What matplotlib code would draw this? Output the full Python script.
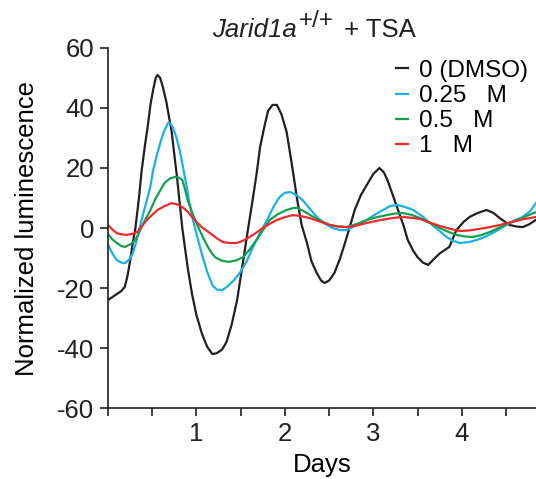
import matplotlib
matplotlib.use("Agg")
import matplotlib.pyplot as plt
import numpy as np

plt.rcParams['font.family'] = ['Liberation Sans', 'DejaVu Sans']
plt.rcParams['axes.unicode_minus'] = False

# Data (days, normalized luminescence)
dmso_x = [0.00, 0.05, 0.10, 0.15, 0.19, 0.22, 0.25, 0.28, 0.31, 0.35, 0.38, 0.42, 0.45, 0.48,
          0.51, 0.54, 0.56, 0.59, 0.62, 0.66, 0.72, 0.78, 0.84, 0.90, 0.95, 1.00, 1.06, 1.12,
          1.18, 1.23, 1.29, 1.34, 1.40, 1.46, 1.53, 1.58, 1.63, 1.68, 1.72, 1.77, 1.81, 1.86,
          1.91, 1.96, 2.02, 2.08, 2.14, 2.19, 2.25, 2.30, 2.36, 2.41, 2.45, 2.50, 2.56, 2.62,
          2.68, 2.74, 2.79, 2.86, 2.94, 3.00, 3.07, 3.12, 3.16, 3.22, 3.28, 3.34, 3.39, 3.45,
          3.50, 3.56, 3.62, 3.68, 3.75, 3.80, 3.86, 3.90, 3.94, 4.02, 4.09, 4.18, 4.28, 4.36,
          4.43, 4.54, 4.62, 4.69, 4.76, 4.84]
dmso_y = [-24, -23, -22, -21, -19.6, -16, -11, -5, 0, 10, 19, 28, 34, 41,
          46, 50, 51, 50, 47, 42, 32, 17, 0, -13, -22, -29, -35, -39.5,
          -42, -41.7, -40.5, -38, -32, -24, -10.7, -1, 8.3, 18, 27, 34, 39, 41,
          41, 38, 32, 21, 9.3, 1, -5, -11, -15, -17.5, -18.3, -17.5, -15, -10.5,
          -5, 1, 6, 11, 15, 18, 20, 18.5, 16, 11, 6, 1, -4, -7.5,
          -9.7, -11.5, -12.3, -10.5, -8.5, -7.5, -6.3, -3.5, -0.7, 2, 3.7, 5, 6, 5,
          3.3, 1, 0.5, 0.3, 1.2, 2.7]

c025_x = [0.00, 0.05, 0.10, 0.15, 0.19, 0.24, 0.28, 0.32, 0.36, 0.40, 0.44, 0.48, 0.51, 0.55,
          0.59, 0.63, 0.68, 0.70, 0.73, 0.77, 0.81, 0.85, 0.89, 0.92, 0.96, 1.01, 1.06, 1.12,
          1.18, 1.23, 1.29, 1.35, 1.42, 1.49, 1.57, 1.64, 1.72, 1.80, 1.87, 1.94, 2.00, 2.06,
          2.13, 2.20, 2.28, 2.36, 2.45, 2.54, 2.62, 2.70, 2.80, 2.93, 3.02, 3.11, 3.19, 3.27,
          3.36, 3.45, 3.55, 3.64, 3.74, 3.83, 3.90, 3.98, 4.08, 4.17, 4.26, 4.35, 4.45, 4.54,
          4.62, 4.69, 4.77, 4.84]
c025_y = [-5.5, -8.5, -10.7, -11.5, -11.7, -10.5, -8.5, -4.5, 0.3, 5, 9.3, 14, 19.3, 24,
          28.3, 32, 35, 35, 33.7, 30.5, 26, 20, 13.7, 8.5, 2.7, -3, -8.5, -14.5,
          -19, -20.5, -20.7, -19.5, -17.5, -15, -11, -6.3, -1.5, 2.7, 7, 10.3, 11.7, 12,
          11, 9.3, 6.5, 3.7, 1.5, 0, -0.7, -0.7, 0.8, 2.7, 4.5, 6, 7.3, 7.7,
          7, 6, 4, 1.7, -0.8, -3, -4.3, -5, -4.7, -4, -3, -1.7, 0, 1.7,
          2.8, 3.7, 5.5, 8.3]

c05_x = [0.00, 0.05, 0.10, 0.15, 0.19, 0.25, 0.31, 0.36, 0.42, 0.48, 0.53, 0.59, 0.64, 0.70,
         0.76, 0.80, 0.84, 0.87, 0.90, 0.96, 1.02, 1.08, 1.13, 1.17, 1.21, 1.28, 1.36, 1.45,
         1.53, 1.60, 1.68, 1.75, 1.83, 1.92, 2.02, 2.10, 2.14, 2.22, 2.32, 2.42, 2.51, 2.60,
         2.70, 2.82, 2.93, 3.04, 3.15, 3.24, 3.33, 3.43, 3.53, 3.64, 3.75, 3.85, 3.94, 4.03,
         4.12, 4.22, 4.32, 4.43, 4.54, 4.65, 4.75, 4.84]
c05_y = [-2, -3.8, -5, -6, -6.3, -5.5, -4, -1, 2.7, 6, 9.3, 12.5, 15, 16.5,
         17, 16.8, 16, 13, 9.3, 4.5, 0.3, -3.5, -6.3, -8.2, -9.7, -10.8, -11.3, -10.8,
         -9.7, -7.2, -4, -0.8, 2.7, 4.6, 6, 6.7, 6.7, 5.5, 3.7, 2.2, 1, 0.5,
         0.3, 1.4, 2.7, 3.6, 4.3, 4.8, 5, 4.4, 3.3, 1.7, 0, -1.3, -2.3, -2.8,
         -3, -2.4, -1.3, 0.2, 1.7, 2.9, 4.2, 5.3]

c1_x = [0.00, 0.05, 0.10, 0.15, 0.21, 0.27, 0.33, 0.38, 0.44, 0.50, 0.56, 0.64, 0.72, 0.78,
        0.84, 0.90, 0.95, 1.00, 1.06, 1.12, 1.18, 1.24, 1.30, 1.38, 1.46, 1.53, 1.60, 1.68,
        1.75, 1.83, 1.91, 2.00, 2.09, 2.18, 2.28, 2.40, 2.51, 2.60, 2.70, 2.82, 2.93, 3.04,
        3.15, 3.24, 3.33, 3.43, 3.53, 3.64, 3.75, 3.86, 3.98, 4.09, 4.20, 4.32, 4.43, 4.54,
        4.66, 4.75, 4.84]
c1_y = [1, -0.5, -1.7, -2.1, -2.3, -2, -1.3, 0.5, 2.7, 4.4, 6, 7.3, 8.3, 7.9,
        7, 5.5, 3.7, 2, 0.3, -1, -2.3, -3.6, -4.7, -5, -5, -4.2, -3, -1.5,
        0, 1.4, 2.7, 3.6, 4.3, 4, 3.3, 2.1, 1, 0.5, 0.3, 0.9, 1.7, 2.4,
        3, 3.4, 3.7, 3.4, 3, 1.8, 0.7, -0.2, -1, -0.8, -0.3, 0.3, 1, 1.8,
        2.7, 3.2, 3.7]

labels = ['0 (DMSO)', '0.25   M', '0.5   M', '1   M']
colors = ['#231f20', '#1ab0e8', '#14a050', '#ee2a2a']
title_parts = ['Jarid1a', '+/+', ' + TSA']

W, H = 536, 479
fig = plt.figure(figsize=(W / 100, H / 100), dpi=100)
ax = fig.add_axes([0.2015, 0.148, 0.7985, 0.752])

series = [(dmso_x, dmso_y), (c025_x, c025_y), (c05_x, c05_y), (c1_x, c1_y)]
for (xs, ys), lab, col in zip(series, labels, colors):
    ax.plot(xs, ys, color=col, lw=1.6, label=lab)

ax.set_xlim(0, 4.84)
ax.set_ylim(-60, 60)
ax.set_yticks(np.arange(-60, 61, 20))
ax.set_yticklabels([str(v) for v in range(-60, 61, 20)])
xt = np.arange(0, 4.84, 0.5)
ax.set_xticks(xt)
ax.set_xticklabels(['' if (v % 1 or v == 0) else str(int(v)) for v in xt])

for s in ['top', 'right']:
    ax.spines[s].set_visible(False)
for s in ['left', 'bottom']:
    ax.spines[s].set_linewidth(1.2)
    ax.spines[s].set_color('#231f20')
ax.tick_params(direction='out', length=6, width=1.2, labelsize=18.5, colors='#231f20', pad=4)

ax.set_xlabel('Days', fontsize=18.5, labelpad=5)
ax.set_ylabel('Normalized luminescence', fontsize=18.5, labelpad=13)

# Title built from pieces (italic gene name, large raised superscript)
renderer = fig.canvas.get_renderer()
x0 = 212 / W
yb = 1 - 37 / H
t1 = fig.text(x0, yb, title_parts[0], fontsize=18.5, style='italic', va='baseline', color='#231f20')
w1 = t1.get_window_extent(renderer).width / W
t2 = fig.text(x0 + w1 + 2 / W, yb + 10 / H, title_parts[1], fontsize=17.5, va='baseline', color='#231f20')
w2 = t2.get_window_extent(renderer).width / W
fig.text(x0 + w1 + w2 + 5 / W, yb, title_parts[2], fontsize=18.5, va='baseline', color='#231f20')

leg = ax.legend(loc='upper right', bbox_to_anchor=(1.016, 1.007), frameon=False, fontsize=17.5,
                handlelength=0.5, handletextpad=0.45, labelspacing=0.13, borderaxespad=0.2)

fig.savefig('out.png', dpi=100)
